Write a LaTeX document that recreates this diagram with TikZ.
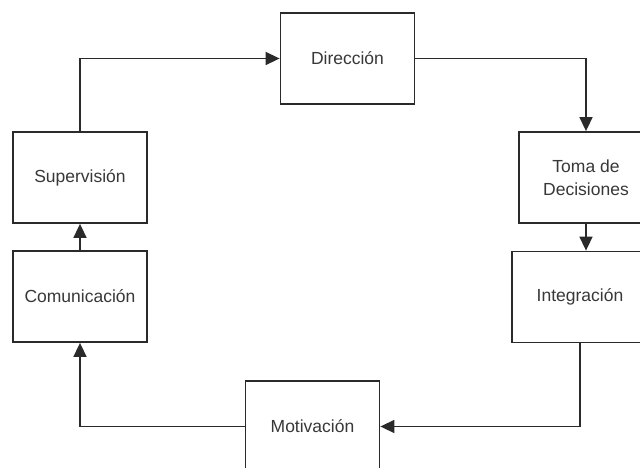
\documentclass[tikz,border=0pt]{standalone}
\usepackage{fontspec}
\setmainfont{Liberation Sans}
\usetikzlibrary{arrows.meta}
\definecolor{ink}{HTML}{2A2A2A}
\definecolor{txt}{HTML}{383838}
\begin{document}
\begin{tikzpicture}[x=1pt,y=-1pt,
  blk/.style={draw=ink, line width=1.8pt, rectangle, minimum width=134pt, minimum height=91pt,
    inner sep=0pt, align=center, text=txt, font=\fontsize{17.5}{23.5}\selectfont},
  link/.style={draw=ink, line width=1.6pt},
  flow/.style={link, -{Triangle[length=14pt,width=13pt]}}]
  \useasboundingbox (0,0) rectangle (640,468);
  \clip (0,0) rectangle (640,468);
  \fill[white] (0,0) rectangle (640,468);
  % stages of the cycle
  \node[blk] (dir)   at (347.5,58.5)  {Dirección};
  \node[blk] (toma)  at (586,177.5)   {Toma de\\Decisiones};
  \node[blk, minimum width=136pt] (integ) at (580,297) {Integración};
  \node[blk] (moti)  at (312.5,426.5) {Motivación};
  \node[blk] (com)   at (80,296.5)    {Comunicación};
  \node[blk] (sup)   at (80,177.5)    {Supervisión};
  % connectors
  \draw[flow] (sup.north) |- (dir.west);
  \draw[flow] (dir.east) -| (toma.north);
  \draw[flow] (toma.south) -- (toma.south |- integ.north);
  \draw[flow] (integ.south) |- (moti.east);
  \draw[flow] (moti.west) -| (com.south);
  \draw[flow] (com.north) -- (sup.south);
\end{tikzpicture}
\end{document}
